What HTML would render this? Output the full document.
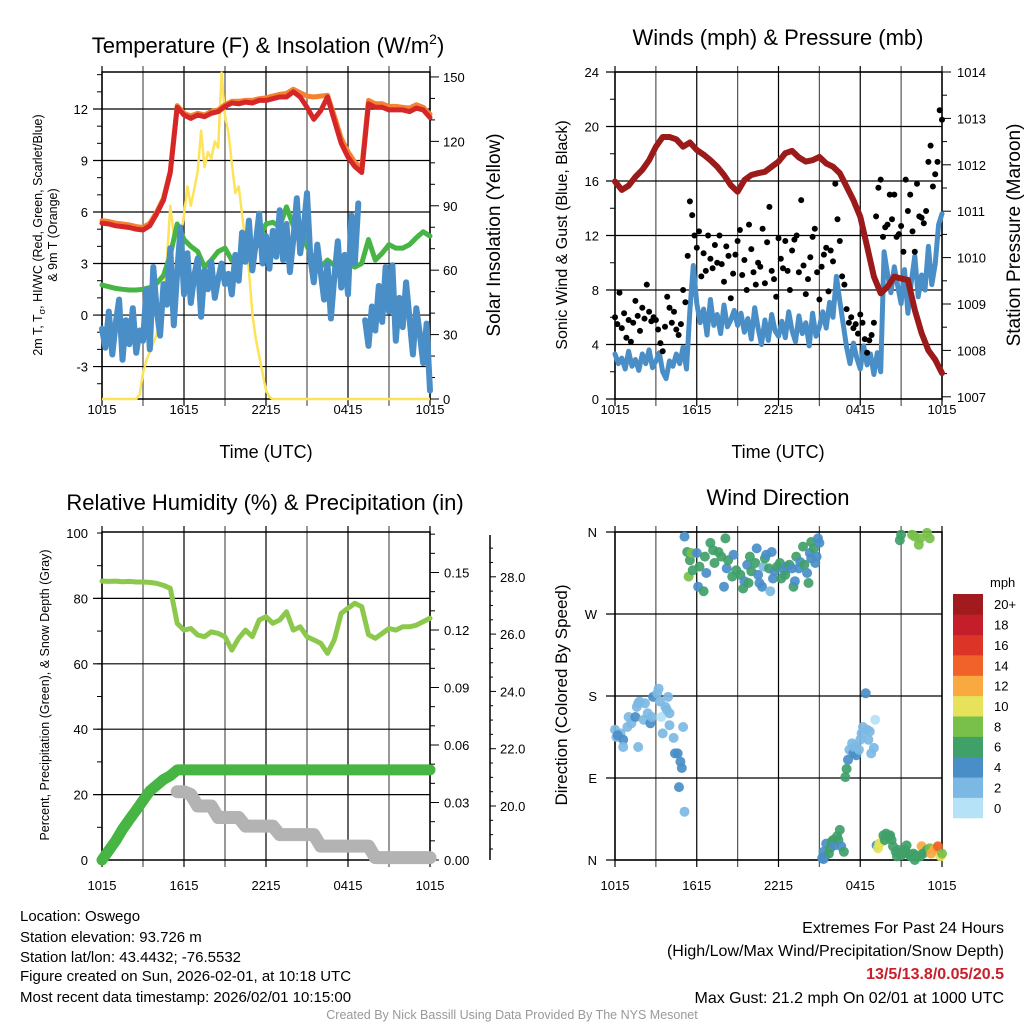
<!DOCTYPE html>
<html><head><meta charset="utf-8"><title>Mesonet Meteogram</title>
<style>
html,body{margin:0;padding:0;background:#fff;}
svg{display:block;font-family:"Liberation Sans",Arial,sans-serif;}
</style></head>
<body>
<svg id="chart" xmlns="http://www.w3.org/2000/svg" width="1024" height="1024" viewBox="0 0 1024 1024">
<rect width="1024" height="1024" fill="#fff"/>
<g id="static" font-family="Liberation Sans, Arial, sans-serif">
<text x="268" y="53" font-size="22" text-anchor="middle">Temperature (F) &amp; Insolation (W/m<tspan font-size="14" dy="-9">2</tspan><tspan dy="9">)</tspan></text>
<text x="778" y="45" font-size="22" text-anchor="middle">Winds (mph) &amp; Pressure (mb)</text>
<text x="265" y="510" font-size="22" text-anchor="middle">Relative Humidity (%) &amp; Precipitation (in)</text>
<text x="778" y="505" font-size="22" text-anchor="middle">Wind Direction</text>
<text x="266" y="458" font-size="18" text-anchor="middle">Time (UTC)</text>
<text x="778" y="458" font-size="18" text-anchor="middle">Time (UTC)</text>
<text transform="translate(42,235) rotate(-90)" font-size="12.5" text-anchor="middle">2m T, T<tspan font-size="9" dy="3">σ</tspan><tspan dy="-3">, HI/WC (Red, Green, Scarlet/Blue)</tspan></text>
<text transform="translate(57,235) rotate(-90)" font-size="12.5" text-anchor="middle">&amp; 9m T (Orange)</text>
<text transform="translate(500,235) rotate(-90)" font-size="19" text-anchor="middle">Solar Insolation (Yellow)</text>
<text transform="translate(567,235) rotate(-90)" font-size="16" text-anchor="middle">Sonic Wind &amp; Gust (Blue, Black)</text>
<text transform="translate(1020,235) rotate(-90)" font-size="19" text-anchor="middle">Station Pressure (Maroon)</text>
<text transform="translate(49,695) rotate(-90)" font-size="12.5" text-anchor="middle">Percent, Precipitation (Green), &amp; Snow Depth (Gray)</text>
<text transform="translate(567,695) rotate(-90)" font-size="17" text-anchor="middle">Direction (Colored By Speed)</text>
<g font-size="15">
<text x="20" y="921">Location: Oswego</text>
<text x="20" y="942">Station elevation: 93.726 m</text>
<text x="20" y="962">Station lat/lon: 43.4432; -76.5532</text>
<text x="20" y="981">Figure created on Sun, 2026-02-01, at 10:18 UTC</text>
<text x="20" y="1002">Most recent data timestamp: 2026/02/01 10:15:00</text>
</g>
<g font-size="16" text-anchor="end">
<text x="1004" y="933">Extremes For Past 24 Hours</text>
<text x="1004" y="956">(High/Low/Max Wind/Precipitation/Snow Depth)</text>
<text x="1004" y="979" fill="#c8202a" font-weight="bold">13/5/13.8/0.05/20.5</text>
<text x="1004" y="1003">Max Gust: 21.2 mph On 02/01 at 1000 UTC</text>
</g>
<text x="512" y="1019" font-size="12.5" fill="#999" text-anchor="middle">Created By Nick Bassill Using Data Provided By The NYS Mesonet</text>
</g>
<g id="dyn"></g>
</svg>
<script>
// ---------- DATA ----------
const xTickLabels = ["1015","1615","2215","0415","1015"];
// Temperature panel (half-hourly, hours 0..24)
const redTemp = [5.35,5.3,5.2,5.15,5.1,5.0,4.95,5.2,5.9,6.7,8.3,12.1,11.65,11.45,11.65,11.55,11.75,11.85,12.15,12.35,12.3,12.4,12.35,12.5,12.5,12.6,12.7,12.7,13.0,12.7,12.1,11.4,11.9,12.7,11.35,10.0,9.2,8.65,8.3,12.3,12.1,12.1,11.95,11.95,11.95,11.85,12.05,11.95,11.5];
const orangeTemp = [5.5,5.45,5.35,5.3,5.25,5.15,5.1,5.35,6.0,6.8,8.4,12.2,11.75,11.6,11.75,11.65,11.85,11.95,12.25,12.45,12.45,12.5,12.5,12.6,12.65,12.75,12.85,12.9,13.15,12.95,12.75,12.7,12.75,12.8,11.6,10.3,9.5,8.9,8.55,12.5,12.3,12.3,12.15,12.15,12.1,12.05,12.25,12.1,11.7];
const greenTemp = [1.75,1.65,1.55,1.5,1.46,1.46,1.5,1.6,1.85,2.3,3.5,5.3,4.4,4.0,3.7,2.8,3.2,3.7,3.9,3.2,3.0,3.3,3.5,4.4,5.3,5.4,5.15,6.3,5.2,5.3,4.0,3.2,2.8,3.2,2.9,3.2,3.0,2.8,3.0,4.4,3.2,3.6,4.1,3.9,3.9,4.1,4.5,4.85,4.6];
// 15-minute series (hours 0..24)
const blueTemp = [-0.8,-1.9,0.2,-2.3,-0.5,0.9,-2.6,-0.3,-1.7,0.4,-2.2,-0.9,-1.5,
1.5,-2.0,2.8,0.3,-1.2,1.8,0.6,3.9,-0.6,2.5,5.1,1.2,
3.6,0.7,2.3,3.3,-0.1,2.6,1.5,3.1,1.0,2.1,3.0,1.8,
2.4,1.2,3.5,2.0,4.8,3.1,5.5,2.6,4.2,5.9,3.0,4.6,
2.7,4.9,3.4,6.1,3.2,5.3,2.5,4.4,6.8,3.6,5.0,7.1,
3.3,1.9,4.1,2.5,0.9,3.0,-0.2,2.2,4.3,1.6,3.5,1.2,
5.8,3.0,6.5,null,-0.3,-1.8,0.5,-0.9,1.7,-0.4,2.8,0.2,
2.9,-1.5,1.0,-0.7,1.9,-0.2,-2.3,0.4,-1.1,-2.8,-0.5,-4.4];
const insolation = [0,0,0,0,0,0,0,0,0,0,0,
2,12,18,22,26,30,38,48,65,90,76,82,75,86,99,90,98,106,125,108,115,112,120,117,152,132,124,110,96,99,86,72,60,40,28,20,12,4,1,
0,0,0,0,0,0,0,0,0,0,0,0,0,0,0,0,0,0,0,0,0,0,0,0,0,0,0,0,0,0,0,0,0,0,0,0,0,0,0,0,0,0,0,0,0,0,0];
const tempTicks = [-3,0,3,6,9,12];
const insoTicks = [0,30,60,90,120,150];
// Winds panel
const sonicWind = [3.3,2.6,3.0,2.2,3.5,2.4,2.9,2.1,3.3,2.6,3.6,2.3,2.8,
3.4,2.0,1.5,2.8,2.4,3.3,2.6,3.8,2.2,6.5,9.8,7.0,
5.6,6.6,4.7,7.3,5.4,6.2,4.8,6.9,5.3,5.8,6.5,5.4,
6.3,4.9,5.9,4.4,6.7,5.2,4.0,5.8,4.3,6.2,5.0,4.6,
5.7,4.5,6.4,5.0,4.2,6.1,4.8,5.6,3.9,6.3,4.6,5.3,
6.4,5.2,7.1,6.0,9.0,7.2,5.5,3.8,2.6,4.1,3.0,2.2,
3.9,2.5,3.3,1.8,3.4,2.0,10.8,9.2,7.8,9.7,8.3,7.0,
9.5,6.3,8.6,10.5,7.5,9.1,8.0,11.2,8.4,9.9,12.8,13.6];
// gusts every 10 minutes
const gusts = [6.0,5.5,7.8,5.2,6.3,4.5,5.8,4.2,5.6,7.2,6.1,5.0,6.7,5.9,8.4,6.4,5.7,6.0,
5.8,5.1,4.1,3.5,5.3,7.5,6.7,5.6,6.4,5.1,4.7,5.5,8.0,7.1,
10.5,14.5,13.5,12.0,
11.1,12.3,9.0,10.7,9.4,12.0,10.3,9.6,11.3,10.0,12.0,9.9,8.6,11.2,10.5,7.4,9.2,10.6,
11.6,12.4,9.1,10.2,8.0,12.8,11.0,9.3,8.4,10.0,9.7,12.5,8.5,11.5,14.1,9.4,8.8,7.5,
11.8,10.3,9.6,11.6,9.4,8.0,10.9,11.7,12.0,9.3,14.6,9.8,7.7,8.8,10.4,11.9,12.5,9.3,
7.3,9.7,10.6,11.1,7.9,10.9,10.1,15.8,13.2,11.6,9.0,8.4,6.6,5.6,6.0,5.2,5.5,4.8,
6.2,5.6,4.4,3.4,4.3,4.7,5.6,13.4,15.5,16.1,11.9,12.6,
12.8,15.0,13.2,15.0,11.9,12.1,12.7,10.8,16.1,13.8,15.0,12.3,10.8,15.8,13.4,13.3,12.9,13.8,17.4,18.6,15.6,16.5,17.4,21.2,20.5];
const pressure = [1011.64,1011.46,1011.55,1011.74,1011.89,1012.1,1012.39,1012.6,1012.6,1012.55,1012.39,1012.48,1012.32,1012.22,1012.1,1011.96,1011.78,1011.56,1011.42,1011.67,1011.78,1011.82,1011.85,1011.96,1012.07,1012.25,1012.3,1012.16,1012.07,1012.1,1012.17,1012.03,1011.96,1011.82,1011.53,1011.24,1010.88,1010.24,1009.59,1009.23,1009.37,1009.59,1009.55,1009.52,1008.87,1008.37,1008.0,1007.8,1007.51];
const windTicks = [0,4,8,12,16,20,24];
const pressTicks = [1007,1008,1009,1010,1011,1012,1013,1014];
// Humidity panel (half-hourly)
const relHum = [85.3,85.2,85.3,85.1,85.2,85.0,85.0,84.9,84.6,84.0,83.1,72.4,70.3,70.8,68.8,68.3,69.8,69.3,68.3,64.2,67.8,70.3,68.3,73.4,74.4,72.4,73.4,75.9,70.3,71.3,68.3,67.3,66.3,63.2,67.3,75.4,77.0,78.5,77.5,68.9,67.8,69.3,70.8,70.3,71.3,71.3,71.8,72.9,73.9];
const precip = [0,0.005,0.010,0.016,0.021,0.026,0.031,0.036,0.039,0.042,0.044,0.047,0.047,0.047,0.047,0.047,0.047,0.047,0.047,0.047,0.047,0.047,0.047,0.047,0.047,0.047,0.047,0.047,0.047,0.047,0.047,0.047,0.047,0.047,0.047,0.047,0.047,0.047,0.047,0.047,0.047,0.047,0.047,0.047,0.047,0.047,0.047,0.047,0.047];
const snowDepth = [null,null,null,null,null,null,null,null,null,null,null,20.5,20.5,20.4,20.0,20.0,20.0,19.6,19.6,19.6,19.6,19.3,19.3,19.3,19.3,19.3,19.0,19.0,19.0,19.0,19.0,19.0,18.6,18.6,18.6,18.6,18.6,18.6,18.6,18.6,18.2,18.2,18.2,18.2,18.2,18.2,18.2,18.2,18.2];
const rhTicks = [0,20,40,60,80,100];
const precipTicks = ["0.00","0.03","0.06","0.09","0.12","0.15"];
const snowTicks = ["20.0","22.0","24.0","26.0","28.0"];
// Wind direction panel
const dirHours = [0.0,0.1,0.4,0.6,0.9,1.0,1.2,1.5,1.6,1.7,1.8,2.1,2.2,2.4,2.6,2.7,2.8,3.1,3.2,3.3,3.4,3.5,3.7,3.8,3.9,4.0,4.0,4.3,4.4,4.6,4.8,4.9,4.7,5.0,5.1,1.7,0.6,0.2,
5.1,5.3,5.4,5.5,5.6,5.7,6.0,6.1,6.2,6.5,6.6,6.7,7.0,7.2,7.3,7.6,7.8,8.0,8.1,8.2,8.3,8.6,8.7,8.9,9.2,9.4,9.5,9.7,9.8,9.9,10.0,10.3,10.4,10.5,10.6,10.8,10.9,11.0,11.1,11.3,11.4,11.5,11.6,11.7,11.9,12.1,12.2,12.4,12.5,12.6,12.8,13.0,13.1,13.2,13.3,13.5,13.6,13.8,13.9,14.1,14.2,14.3,14.4,14.6,14.7,14.8,14.9,15.0,14.4,
15.2,15.3,15.4,15.5,15.7,15.8,15.9,16.0,16.1,16.3,16.4,16.5,16.6,16.8,15.3,
16.9,17.0,17.1,17.2,17.4,17.5,17.6,17.7,17.9,18.0,18.1,18.2,18.4,18.5,18.6,18.7,18.8,19.0,19.1,17.7,
19.2,19.3,19.4,19.6,19.7,19.8,19.9,20.1,20.2,20.3,20.4,20.6,20.7,20.8,21.0,21.2,21.3,21.4,21.5,21.7,21.8,21.9,22.0,22.1,22.4,22.5,22.6,22.9,23.1,23.2,23.4,23.6,23.7,23.9,24.0,
20.9,21.0,21.8,22.0,22.3,22.4,22.9,23.1];
const dirDegrees = [143,135,139,132,146,157,150,157,168,172,174,154,172,161,150,157,179,183,188,174,157,139,168,165,179,161,148,134,117,117,108,101,80,146,53,124,124,137,
355,338,311,329,337,318,337,300,322,295,333,315,348,340,326,338,333,300,353,320,329,311,335,318,313,298,306,324,304,333,317,326,342,313,304,300,322,331,335,320,295,338,309,317,322,326,309,318,313,322,324,320,300,306,333,320,327,344,324,315,304,337,349,342,326,333,353,348,331,
2,9,4,18,7,13,20,22,16,26,22,33,15,9,1,
91,100,110,121,128,117,123,115,121,132,139,146,183,143,132,141,117,123,154,124,
16,13,18,20,27,22,29,26,27,22,15,9,4,11,5,7,11,16,7,4,5,7,0,5,4,15,7,11,13,7,11,13,15,4,7,
351,357,357,355,346,353,359,353];
const dirSpeeds = [2,3,2,4,2,3,2,4,2,2,2,2,2,2,4,2,4,2,2,2,1,2,2,2,2,2,2,2,4,4,4,4,4,2,2,2,2,4,
4,6,9,7,8,6,4,4,6,6,6,4,6,6,6,6,6,4,6,4,6,6,4,6,6,6,4,4,6,6,6,6,4,4,4,4,2,6,4,6,2,4,4,4,6,6,6,4,6,4,6,4,6,4,6,4,4,6,6,4,6,4,6,6,4,4,4,4,4,
4,4,4,4,6,6,6,6,4,6,7,7,4,6,4,
6,6,4,2,2,4,2,4,2,2,2,2,4,2,2,2,2,2,1,2,
4,11,10,10,7,7,7,7,6,7,7,7,6,6,7,6,7,7,7,7,6,6,6,6,6,12,7,7,8,12,12,13,15,10,8,
7,7,8,8,8,8,8,8];
const dirTickLabels = ["N","E","S","W","N"];
const speedLabels = ["0","2","4","6","8","10","12","14","16","18","20+"];
const speedColors = ["#b6e2f7","#7cb8e4","#4a8ec8","#3fa068","#78c04a","#e6e25a","#f8a940","#f06229","#dd3428","#c41e2a","#a01a1e"];

// ---------- RENDER ----------
const NS = "http://www.w3.org/2000/svg";
const root = document.getElementById("dyn");
function mk(tag, attrs, parent) {
  const e = document.createElementNS(NS, tag);
  for (const k in attrs) e.setAttribute(k, attrs[k]);
  (parent || root).appendChild(e);
  return e;
}
function txt(x, y, s, size, anchor, parent) {
  const t = mk("text", {x: x, y: y, "font-size": size, "text-anchor": anchor}, parent);
  t.textContent = s;
  return t;
}
function linePath(vals, xf, yf, step) {
  let d = "", pen = false;
  for (let i = 0; i < vals.length; i++) {
    if (vals[i] === null) { pen = false; continue; }
    d += (pen ? "L" : "M") + xf(i * step).toFixed(1) + "," + yf(vals[i]).toFixed(1);
    pen = true;
  }
  return d;
}
function frame(L, R, T, B, name) {
  const g = mk("g", {});
  
  
  for (let k = 0; k <= 8; k++) {
    const x = L + (R - L) * k / 8;
    mk("line", {x1: x, x2: x, y1: T - 6, y2: B + 7, stroke: k % 2 ? "#555" : "#000", "stroke-width": 1.2}, g);
  }
  mk("rect", {x: L, y: T, width: R - L, height: B - T, fill: "none", stroke: "#000", "stroke-width": 1.5}, g);
  return g;
}
function xLabels(L, R, y, name) {
  const g = mk("g", {});
  
  
  for (let k = 0; k < xTickLabels.length; k++) {
    txt(L + (R - L) * k / 4, y, xTickLabels[k], 13, "middle", g);
  }
}
function hGrid(L, R, y, g) {
  mk("line", {x1: L - 9, x2: R, y1: y, y2: y, stroke: "#000", "stroke-width": 1.2}, g);
}

// Panel 1: temperature
(function () {
  const L = 102, R = 430, T = 72, B = 399;
  const xs = h => L + (R - L) * h / 24;
  const yT = v => 109 + (12 - v) * 17.17;
  const yI = v => 399 - v * 2.147;
  const g = frame(L, R, T, B, "temperature-plot");
  for (let v = -4; v <= 14; v++) mk("line", {x1: L - 5, x2: L, y1: yT(v), y2: yT(v), stroke: "#000"}, g);
  for (let v = 0; v <= 150; v += 10) mk("line", {x1: R, x2: R + (v % 30 ? 5 : 9), y1: yI(v), y2: yI(v), stroke: "#000"}, g);
  tempTicks.forEach(v => { hGrid(L, R, yT(v), g); txt(L - 14, yT(v) + 5, String(v), 13, "end", g); });
  insoTicks.forEach(v => txt(R + 13, yI(v) + 5, String(v), 13, "start", g));
  const y = mk("path", {d: linePath(insolation, xs, yI, 0.25), fill: "none", stroke: "#fde35a", "stroke-width": 2.5, "stroke-linejoin": "round"});
  
  
  const gr = mk("path", {d: linePath(greenTemp, xs, yT, 0.5), fill: "none", stroke: "#46b544", "stroke-width": 5, "stroke-linejoin": "round", "stroke-linecap": "round"});
  
  
  const bl = mk("path", {d: linePath(blueTemp, xs, yT, 0.25), fill: "none", stroke: "#4a8ec8", "stroke-width": 6, "stroke-linejoin": "round", "stroke-linecap": "round"});
  
  
  const o = mk("path", {d: linePath(orangeTemp, xs, yT, 0.5), fill: "none", stroke: "#f58231", "stroke-width": 5, "stroke-linejoin": "round", "stroke-linecap": "round"});
  
  
  const r = mk("path", {d: linePath(redTemp, xs, yT, 0.5), fill: "none", stroke: "#d62728", "stroke-width": 5, "stroke-linejoin": "round", "stroke-linecap": "round"});
  
  
  xLabels(L, R, 414, "temp-x-tick-labels");
})();

// Panel 2: winds
(function () {
  const L = 615, R = 942, T = 72, B = 399;
  const xs = h => L + (R - L) * h / 24;
  const yW = v => 399 - v * 13.625;
  const yP = p => 72 + (1014 - p) * 46.4;
  const g = frame(L, R, T, B, "winds-plot");
  for (let v = 0; v <= 24; v += 2) mk("line", {x1: L - 5, x2: L, y1: yW(v), y2: yW(v), stroke: "#000"}, g);
  for (let p = 1007; p <= 1014; p += 0.5) mk("line", {x1: R, x2: R + (p % 1 ? 5 : 9), y1: yP(p), y2: yP(p), stroke: "#000"}, g);
  windTicks.forEach(v => { hGrid(L, R, yW(v), g); txt(L - 16, yW(v) + 5, String(v), 13, "end", g); });
  pressTicks.forEach(p => txt(R + 15, yP(p) + 5, String(p), 13, "start", g));
  const bl = mk("path", {d: linePath(sonicWind, xs, yW, 0.25), fill: "none", stroke: "#4a8ec8", "stroke-width": 5, "stroke-linejoin": "round", "stroke-linecap": "round"});
  
  
  const gg = mk("g", {});
  
  
  gusts.forEach((v, i) => {
    const c = mk("circle", {cx: xs(i / 6).toFixed(1), cy: yW(v).toFixed(1), r: 3, fill: "#000"}, gg);
    
    
  });
  const p = mk("path", {d: linePath(pressure, xs, yP, 0.5), fill: "none", stroke: "#9b1b1b", "stroke-width": 6, "stroke-linejoin": "round", "stroke-linecap": "round"});
  
  
  xLabels(L, R, 414, "winds-x-tick-labels");
})();

// Panel 3: humidity & precipitation
(function () {
  const L = 102, R = 430, T = 532, B = 860;
  const xs = h => L + (R - L) * h / 24;
  const yRH = v => 860 - v * 3.27;
  const yPr = p => 860 - p * 1916.7;
  const ySn = s => 806 - (s - 20) * 28.65;
  const g = frame(L, R, T, B, "humidity-plot");
  for (let v = 0; v <= 100; v += 10) mk("line", {x1: L - 5, x2: L, y1: yRH(v), y2: yRH(v), stroke: "#000"}, g);
  for (let k = 0; k <= 17; k++) mk("line", {x1: R, x2: R + (k % 3 ? 5 : 9), y1: yPr(k / 100), y2: yPr(k / 100), stroke: "#000"}, g);
  rhTicks.forEach(v => { if (v > 0 && v < 100) hGrid(L, R, yRH(v), g); txt(L - 14, yRH(v) + 5, String(v), 13, "end", g); });
  precipTicks.forEach(s => txt(R + 14, yPr(parseFloat(s)) + 5, s, 13, "start", g));
  mk("line", {x1: 490, x2: 490, y1: 535, y2: 860, stroke: "#000", "stroke-width": 1.5}, g);
  for (let s = 18.5; s <= 29; s += 0.5) mk("line", {x1: 490, x2: 490 + (s % 2 ? 3 : 6), y1: ySn(s), y2: ySn(s), stroke: "#000"}, g);
  snowTicks.forEach(s => txt(500, ySn(parseFloat(s)) + 5, s, 13, "start", g));
  const sn = mk("path", {d: linePath(snowDepth, xs, ySn, 0.5), fill: "none", stroke: "#b3b3b3", "stroke-width": 13, "stroke-linejoin": "round", "stroke-linecap": "round"});
  
  
  const pr = mk("path", {d: linePath(precip, xs, yPr, 0.5), fill: "none", stroke: "#46b544", "stroke-width": 11, "stroke-linejoin": "round", "stroke-linecap": "round"});
  
  
  const rh = mk("path", {d: linePath(relHum, xs, yRH, 0.5), fill: "none", stroke: "#8cc84b", "stroke-width": 5, "stroke-linejoin": "round", "stroke-linecap": "round"});
  
  
  xLabels(L, R, 890, "humidity-x-tick-labels");
})();

// Panel 4: wind direction
(function () {
  const L = 615, R = 942, T = 532, B = 860;
  const xs = h => L + (R - L) * h / 24;
  const yD = d => 860 - d * 0.9111;
  const g = frame(L, R, T, B, "wind-direction-plot");
  dirTickLabels.forEach((s, k) => { hGrid(L, R, yD(k * 90), g); txt(L - 18, yD(k * 90) + 5, s, 13, "end", g); });
  const gd = mk("g", {});
  
  
  dirHours.forEach((h, i) => {
    const idx = Math.min(10, Math.floor(dirSpeeds[i] / 2));
    const c = mk("circle", {cx: xs(h).toFixed(1), cy: yD(dirDegrees[i]).toFixed(1), r: 5, fill: speedColors[idx], "fill-opacity": 0.92}, gd);
    
    
  });
  xLabels(L, R, 890, "direction-x-tick-labels");
  // colorbar
  const cb = mk("g", {});
  
  
  const top = 594, bh = 20.36;
  txt(990, 587, "mph", 13, "start", cb);
  for (let k = 0; k < speedColors.length; k++) {
    const y = top + (10 - k) * bh;
    const r = mk("rect", {x: 953, y: y.toFixed(1), width: 30, height: (bh + 0.3).toFixed(1), fill: speedColors[k]}, cb);
    
    
    txt(994, y + bh / 2 + 5, speedLabels[k], 13, "start", cb);
  }
})();
</script>
</body></html>
